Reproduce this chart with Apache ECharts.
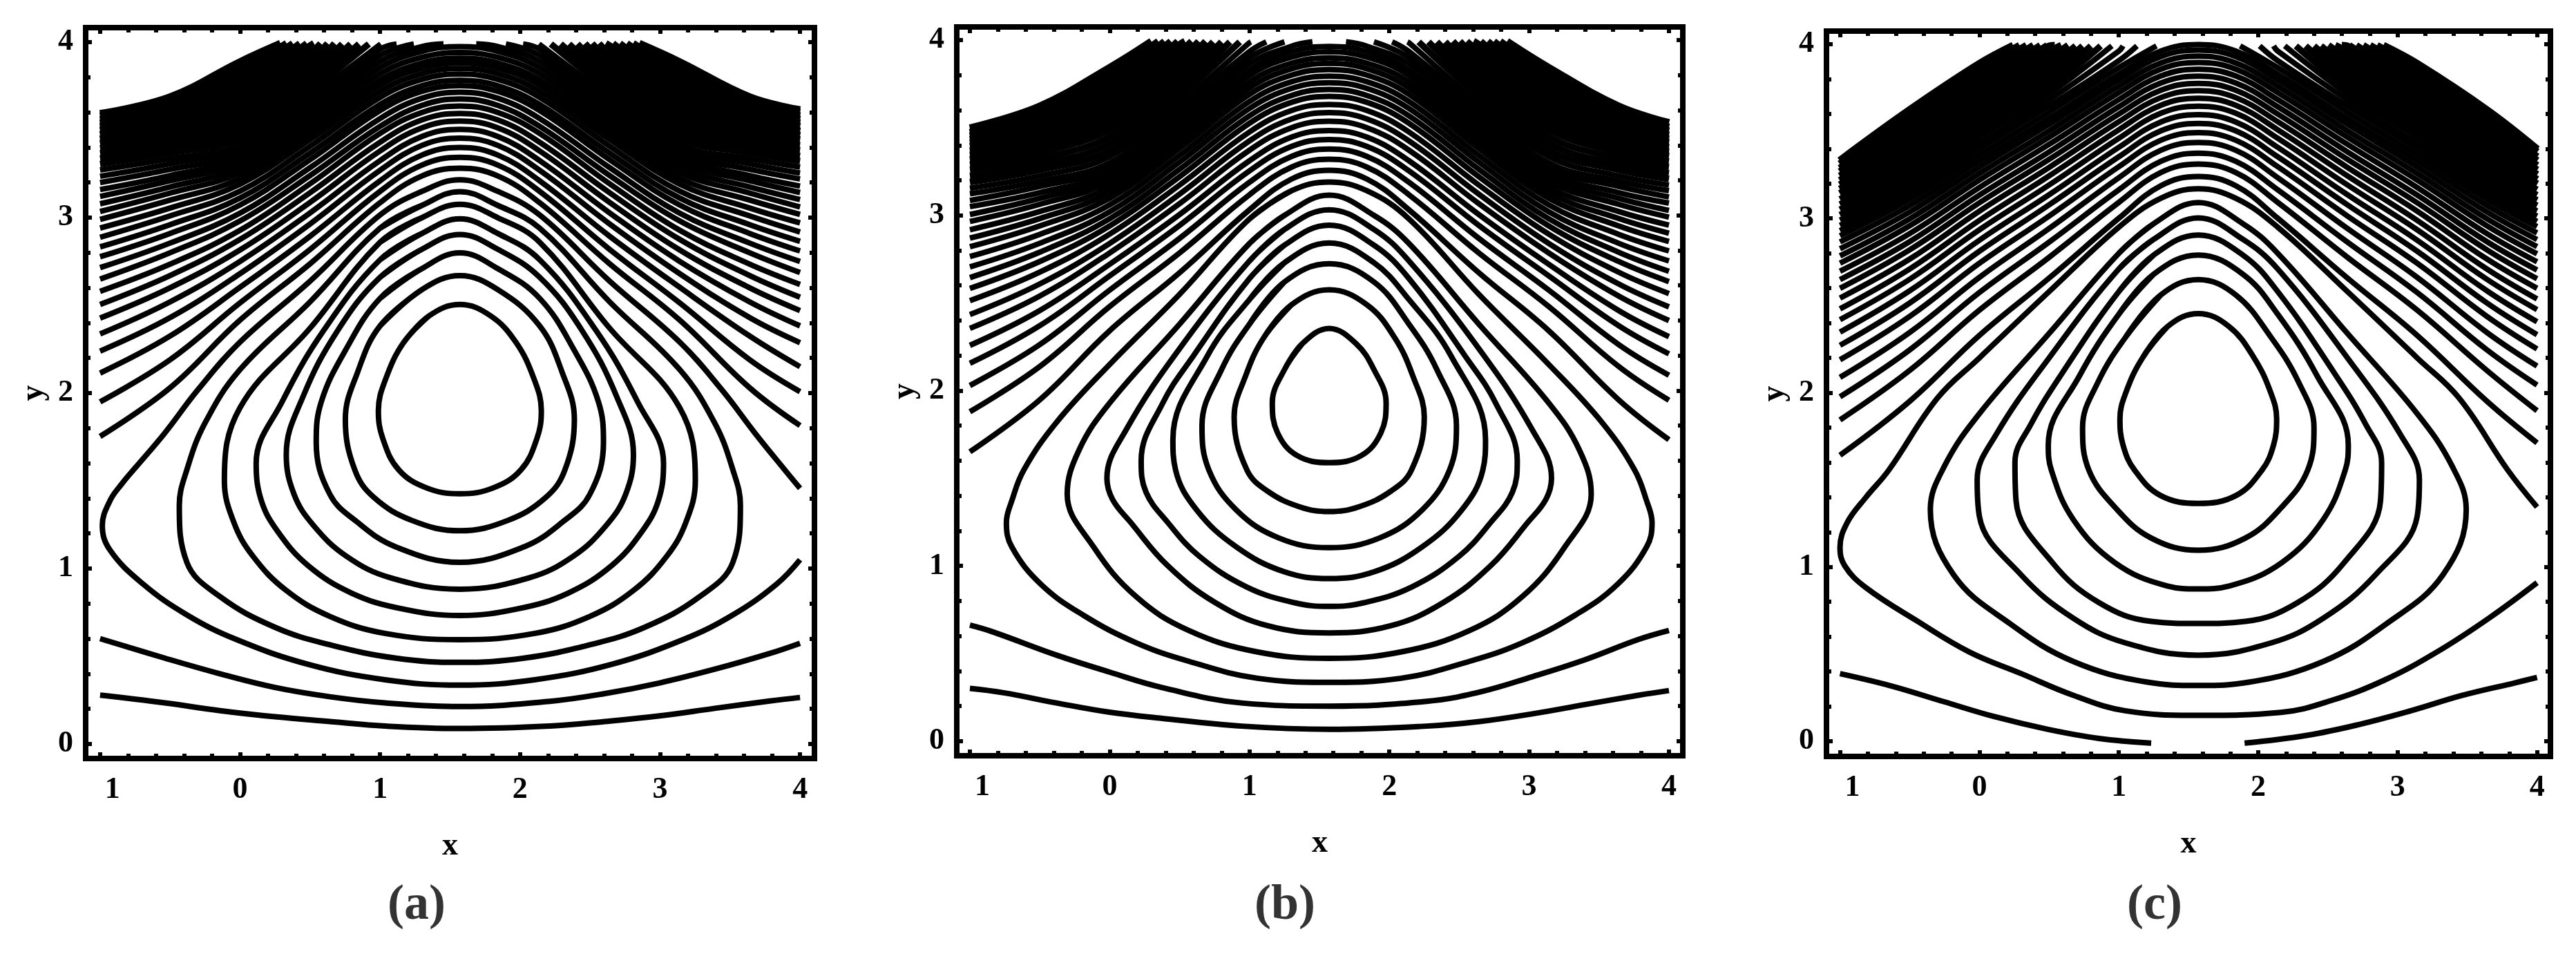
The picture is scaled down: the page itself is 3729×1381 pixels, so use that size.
<!DOCTYPE html>
<html>
<head>
<meta charset="utf-8">
<style>html,body{margin:0;background:#fff}#main{width:3729px;height:1381px}</style>
<script src="https://cdn.jsdelivr.net/npm/echarts@6/dist/echarts.min.js"></script>
</head>
<body>
<div id="main"></div>
<script>
// tick values
const xMajor = [-1, 0, 1, 2, 3, 4];
const yMajor = [0, 1, 2, 3, 4];
const xMinor = [-0.8, -0.6, -0.4, -0.2, 0.2, 0.4, 0.6, 0.8, 1.2, 1.4, 1.6, 1.8, 2.2, 2.4, 2.6, 2.8, 3.2, 3.4, 3.6, 3.8];
const yMinor = [0.2, 0.4, 0.6, 0.8, 1.2, 1.4, 1.6, 1.8, 2.2, 2.4, 2.6, 2.8, 3.2, 3.4, 3.6, 3.8];

// x position of the columns read for the arches and the clipped band
const archX = [-1, -0.5, 0, 0.5, 1, 1.3, 1.57, 1.84, 2.14, 2.64, 3.14, 3.64, 4];
const bandLeftX = [-1, -0.5, 0, 0.5, 1, 1.3];
const bandRightX = [4, 3.64, 3.14, 2.64, 2.14, 1.84];
const bandTopY = 3.99;

// ---- panel (a) ----
const ringsA = [
  [1.57,2.505, 1.35,2.44, 1.17,2.29, 1.04,2.08, 0.988,1.9, 1.02,1.74, 1.133,1.563, 1.33,1.46, 1.57,1.426, 1.81,1.46, 2.007,1.563, 2.12,1.74, 2.152,1.9, 2.1,2.08, 1.97,2.29, 1.79,2.44, 1.57,2.505],
  [1.57,2.669, 1.3,2.59, 1,2.383, 0.84,2.12, 0.752,1.85, 0.819,1.563, 0.956,1.405, 1.231,1.273, 1.57,1.215, 1.909,1.273, 2.184,1.405, 2.321,1.563, 2.388,1.85, 2.3,2.12, 2.14,2.383, 1.84,2.59, 1.57,2.669],
  [1.57,2.799, 1.3,2.71, 1,2.54, 0.75,2.24, 0.58,1.95, 0.544,1.72, 0.642,1.422, 0.838,1.264, 1.113,1.123, 1.57,1.035, 2.027,1.123, 2.302,1.264, 2.498,1.422, 2.596,1.72, 2.56,1.95, 2.39,2.24, 2.14,2.54, 1.84,2.71, 1.57,2.799],
  [1.57,2.904, 1.3,2.82, 1,2.66, 0.7,2.36, 0.45,1.98, 0.33,1.65, 0.386,1.422, 0.524,1.246, 0.76,1.07, 1.074,0.947, 1.57,0.882, 2.066,0.947, 2.38,1.07, 2.616,1.246, 2.754,1.422, 2.81,1.65, 2.69,1.98, 2.44,2.36, 2.14,2.66, 1.84,2.82, 1.57,2.904],
  [1.57,2.993, 1.3,2.91, 1,2.76, 0.6,2.36, 0.3,1.95, 0.115,1.6, 0.152,1.387, 0.269,1.211, 0.485,1.017, 0.799,0.859, 1.152,0.771, 1.57,0.732, 1.988,0.771, 2.341,0.859, 2.655,1.017, 2.871,1.211, 2.988,1.387, 3.025,1.6, 2.84,1.95, 2.54,2.36, 2.14,2.76, 1.84,2.91, 1.57,2.993],
  [1.57,3.076, 1.3,3, 1,2.86, 0.5,2.37, 0,1.917, -0.112,1.5, -0.045,1.264, 0.092,1.07, 0.328,0.876, 0.642,0.727, 1.035,0.63, 1.57,0.594, 2.105,0.63, 2.498,0.727, 2.812,0.876, 3.048,1.07, 3.185,1.264, 3.252,1.5, 3.14,1.917, 2.64,2.37, 2.14,2.86, 1.84,3, 1.57,3.076],
  [1.57,3.148, 1.3,3.07, 1,2.94, 0.5,2.52, 0,2.134, -0.25,1.83, -0.38,1.563, -0.434,1.36, -0.38,1.035, -0.144,0.84, 0.249,0.665, 0.642,0.565, 1.113,0.489, 1.57,0.465, 2.027,0.489, 2.498,0.565, 2.891,0.665, 3.284,0.84, 3.52,1.035, 3.574,1.36, 3.52,1.563, 3.39,1.83, 3.14,2.134, 2.64,2.52, 2.14,2.94, 1.84,3.07, 1.57,3.148]
];
const wrapA = [4,1.05, 3.834,0.912, 3.519,0.735, 3.166,0.595, 2.655,0.454, 2.105,0.366, 1.57,0.335, 1.035,0.366, 0.485,0.454, -0.026,0.595, -0.379,0.735, -0.694,0.912, -0.929,1.105, -0.984,1.246, -0.929,1.387, -0.843,1.484, -0.753,1.57, -0.54,1.77, -0.3,2.02, 0,2.291, 0.5,2.638, 1,3.015, 1.3,3.15, 1.57,3.216, 1.84,3.15, 2.14,3.015, 2.64,2.638, 3.14,2.291, 3.44,2.02, 3.68,1.77, 3.883,1.57, 4,1.457];
const lowA = [
  [-1,0.6, -0.537,0.489, -0.144,0.4, 0.249,0.322, 0.642,0.269, 1.035,0.234, 1.57,0.213, 2.213,0.243, 2.606,0.287, 2.998,0.348, 3.391,0.426, 3.784,0.516, 4,0.574],
  [-1,0.278, -0.537,0.234, -0.144,0.19, 0.249,0.155, 0.642,0.128, 1.035,0.102, 1.57,0.088, 2.213,0.102, 2.606,0.128, 2.998,0.16, 3.391,0.203, 3.784,0.245, 4,0.265]
];
const archesA = [
  [1.753,2.03,2.416,2.737,3.085,3.238,3.282,3.238,3.085,2.737,2.416,2.03,1.815],
  [1.95,2.19,2.514,2.819,3.15,3.3,3.344,3.3,3.15,2.819,2.514,2.19,2.008],
  [2.114,2.325,2.603,2.894,3.21,3.357,3.4,3.357,3.21,2.894,2.603,2.325,2.15],
  [2.239,2.43,2.681,2.964,3.27,3.412,3.453,3.412,3.27,2.964,2.681,2.43,2.287],
  [2.337,2.52,2.751,3.027,3.325,3.463,3.503,3.463,3.325,3.027,2.751,2.52,2.383],
  [2.427,2.6,2.816,3.087,3.38,3.512,3.55,3.512,3.38,3.087,2.816,2.6,2.47],
  [2.505,2.67,2.876,3.142,3.43,3.557,3.594,3.557,3.43,3.142,2.876,2.67,2.546],
  [2.58,2.735,2.928,3.193,3.48,3.6,3.636,3.6,3.48,3.193,2.928,2.735,2.619],
  [2.65,2.8,2.981,3.24,3.52,3.64,3.676,3.64,3.52,3.24,2.981,2.8,2.687],
  [2.715,2.855,3.026,3.285,3.565,3.681,3.715,3.681,3.565,3.285,3.026,2.855,2.75],
  [2.777,2.91,3.072,3.33,3.61,3.72,3.752,3.72,3.61,3.33,3.072,2.91,2.81],
  [2.833,2.96,3.112,3.368,3.645,3.752,3.783,3.752,3.645,3.368,3.112,2.96,2.865],
  [2.888,3.01,3.151,3.407,3.685,3.788,3.818,3.788,3.685,3.407,3.151,3.01,2.918],
  [2.941,3.055,3.191,3.445,3.72,3.821,3.85,3.821,3.72,3.445,3.191,3.055,2.97],
  [2.99,3.1,3.223,3.478,3.755,3.852,3.88,3.852,3.755,3.478,3.223,3.1,3.018],
  [3.035,3.14,3.256,3.51,3.785,3.881,3.909,3.881,3.785,3.51,3.256,3.14,3.061],
  [3.079,3.175,3.285,3.542,3.82,3.914,3.941,3.914,3.82,3.542,3.285,3.175,3.103],
  [3.121,3.21,3.315,3.574,3.855,3.948,3.975,3.948,3.855,3.574,3.315,3.21,3.143]
];
const bandLeftA = [
  [3.16,3.24,3.341,3.603,3.89,3.975],[3.2,3.275,3.367,3.635,3.925],[3.236,3.307,3.394,3.665,3.96],[3.272,3.337,3.416,3.69],
  [3.306,3.37,3.45,3.725],[3.337,3.4,3.485,3.755],[3.367,3.43,3.52,3.79],[3.395,3.46,3.555,3.82],[3.42,3.49,3.59,3.85],
  [3.445,3.525,3.625,3.89],[3.47,3.555,3.66,3.93],[3.495,3.58,3.695,3.975],[3.515,3.6,3.73],[3.535,3.625,3.765],
  [3.555,3.645,3.8],[3.575,3.665,3.84],[3.59,3.685,3.885]
];
const bandRightA = [
  [3.18,3.24,3.341,3.603,3.89,3.975],[3.22,3.275,3.367,3.635,3.925],[3.254,3.307,3.394,3.665,3.96],[3.288,3.337,3.416,3.69],
  [3.322,3.37,3.45,3.725],[3.352,3.4,3.485,3.755],[3.384,3.43,3.52,3.79],[3.413,3.46,3.555,3.82],[3.44,3.49,3.59,3.85],
  [3.465,3.525,3.625,3.89],[3.49,3.555,3.66,3.93],[3.516,3.58,3.695,3.975],[3.536,3.6,3.73],[3.557,3.625,3.765],
  [3.577,3.645,3.8],[3.597,3.665,3.84],[3.612,3.685,3.885]
];
const bandEndLeftA = [1.453,1.241,1.118,1.005,0.92,0.85,0.79,0.73,0.68,0.63,0.58,0.53,0.48,0.43,0.38,0.335,0.29];
const bandEndRightA = [1.687,1.899,2.022,2.135,2.22,2.29,2.35,2.41,2.46,2.51,2.56,2.61,2.66,2.71,2.76,2.805,2.85];

// ---- panel (b) ----
const ringsB = [
  [1.57,2.355, 1.38,2.27, 1.25,2.12, 1.163,1.93, 1.2,1.76, 1.34,1.63, 1.57,1.589, 1.8,1.63, 1.94,1.76, 1.977,1.93, 1.89,2.12, 1.76,2.27, 1.57,2.355],
  [1.57,2.575, 1.3,2.49, 1.1,2.3, 0.97,2.08, 0.89,1.85, 0.981,1.548, 1.132,1.425, 1.359,1.337, 1.57,1.31, 1.781,1.337, 2.008,1.425, 2.159,1.548, 2.25,1.85, 2.17,2.08, 2.04,2.3, 1.84,2.49, 1.57,2.575],
  [1.57,2.724, 1.25,2.62, 1,2.38, 0.8,2.12, 0.66,1.8, 0.709,1.548, 0.906,1.319, 1.208,1.16, 1.57,1.104, 1.932,1.16, 2.234,1.319, 2.431,1.548, 2.48,1.8, 2.34,2.12, 2.14,2.38, 1.89,2.62, 1.57,2.724],
  [1.57,2.842, 1.25,2.73, 1,2.52, 0.7,2.2, 0.452,1.72, 0.471,1.548, 0.622,1.319, 0.906,1.108, 1.246,0.967, 1.57,0.928, 1.894,0.967, 2.234,1.108, 2.518,1.319, 2.669,1.548, 2.688,1.72, 2.44,2.2, 2.14,2.52, 1.89,2.73, 1.57,2.842],
  [1.57,2.944, 1.25,2.83, 1,2.64, 0.6,2.2, 0.38,1.93, 0.225,1.6, 0.26,1.42, 0.414,1.249, 0.641,1.055, 0.981,0.879, 1.322,0.79, 1.57,0.769, 1.818,0.79, 2.159,0.879, 2.499,1.055, 2.726,1.249, 2.88,1.42, 2.915,1.6, 2.76,1.93, 2.54,2.2, 2.14,2.64, 1.89,2.83, 1.57,2.944],
  [1.57,3.032, 1.25,2.92, 1,2.74, 0.5,2.24, 0.12,1.78, -0.02,1.5, 0.02,1.38, 0.149,1.249, 0.414,1.002, 0.754,0.791, 1.132,0.658, 1.57,0.618, 2.008,0.658, 2.386,0.791, 2.726,1.002, 2.991,1.249, 3.12,1.38, 3.16,1.5, 3.02,1.78, 2.64,2.24, 2.14,2.74, 1.89,2.92, 1.57,3.032],
  [1.57,3.115, 1.25,3, 1,2.84, 0.5,2.38, 0,1.93, -0.22,1.66, -0.304,1.41, -0.115,1.108, 0.187,0.826, 0.565,0.632, 1.057,0.509, 1.57,0.473, 2.083,0.509, 2.575,0.632, 2.953,0.826, 3.255,1.108, 3.444,1.41, 3.36,1.66, 3.14,1.93, 2.64,2.38, 2.14,2.84, 1.89,3, 1.57,3.115],
  [1.57,3.19, 1.3,3.14, 1,2.98, 0.5,2.55, 0,2.15, -0.38,1.82, -0.614,1.548, -0.7,1.372, -0.739,1.248, -0.7,1.108, -0.493,0.896, -0.191,0.72, 0.187,0.562, 0.565,0.456, 1.057,0.359, 1.57,0.336, 2.083,0.359, 2.575,0.456, 2.953,0.562, 3.331,0.72, 3.633,0.896, 3.84,1.108, 3.879,1.248, 3.84,1.372, 3.754,1.548, 3.52,1.82, 3.14,2.15, 2.64,2.55, 2.14,2.98, 1.84,3.14, 1.57,3.19]
];
const lowB = [
  [-1,0.662, -0.834,0.623, -0.38,0.491, 0,0.394, 0.376,0.306, 0.943,0.218, 1.575,0.2, 2.267,0.227, 2.645,0.28, 3.023,0.368, 3.4,0.465, 3.78,0.58, 4,0.632],
  [-1,0.301, -0.758,0.276, -0.38,0.218, 0,0.165, 0.376,0.13, 0.943,0.086, 1.575,0.068, 2.267,0.086, 2.645,0.112, 3.023,0.156, 3.4,0.209, 3.78,0.262, 4,0.289]
];
const archesB = [
  [1.651,1.948,2.342,2.673,3.032,3.207,3.257,3.207,3.032,2.673,2.342,1.948,1.72],
  [1.88,2.138,2.48,2.786,3.118,3.275,3.32,3.275,3.118,2.786,2.48,2.138,1.945],
  [2.029,2.263,2.574,2.869,3.189,3.336,3.378,3.336,3.189,2.869,2.574,2.263,2.088],
  [2.156,2.371,2.655,2.943,3.254,3.393,3.433,3.393,3.254,2.943,2.655,2.371,2.21],
  [2.258,2.457,2.721,3.005,3.312,3.446,3.484,3.446,3.312,3.005,2.721,2.457,2.308],
  [2.355,2.54,2.786,3.067,3.372,3.5,3.537,3.5,3.372,3.067,2.786,2.54,2.4],
  [2.434,2.609,2.84,3.121,3.425,3.55,3.586,3.55,3.425,3.121,2.84,2.609,2.478],
  [2.513,2.676,2.893,3.173,3.476,3.598,3.633,3.598,3.476,3.173,2.893,2.676,2.554],
  [2.583,2.737,2.94,3.221,3.526,3.645,3.679,3.645,3.526,3.221,2.94,2.737,2.622],
  [2.645,2.79,2.981,3.263,3.568,3.684,3.718,3.684,3.568,3.263,2.981,2.79,2.681],
  [2.706,2.841,3.021,3.304,3.61,3.724,3.757,3.724,3.61,3.304,3.021,2.841,2.74],
  [2.765,2.892,3.06,3.343,3.65,3.762,3.794,3.762,3.65,3.343,3.06,2.892,2.797],
  [2.821,2.94,3.098,3.382,3.69,3.8,3.832,3.8,3.69,3.382,3.098,2.94,2.851],
  [2.87,2.982,3.13,3.417,3.727,3.836,3.867,3.836,3.727,3.417,3.13,2.982,2.898],
  [2.918,3.022,3.161,3.449,3.762,3.868,3.899,3.868,3.762,3.449,3.161,3.022,2.944],
  [2.965,3.063,3.192,3.483,3.798,3.903,3.933,3.903,3.798,3.483,3.192,3.063,2.99],
  [3.005,3.097,3.218,3.512,3.829,3.934,3.964,3.934,3.829,3.512,3.218,3.097,3.028]
];
const bandLeftB = [
  [3.05,3.13,3.245,3.545,3.865,3.965],[3.085,3.165,3.272,3.575,3.9],[3.123,3.195,3.3,3.605,3.935],[3.155,3.225,3.335,3.64,3.985],
  [3.19,3.26,3.37,3.68],[3.225,3.29,3.41,3.72],[3.261,3.325,3.45,3.76],[3.29,3.36,3.49,3.8],[3.315,3.39,3.53,3.84],
  [3.34,3.415,3.565,3.88],[3.365,3.445,3.6,3.925],[3.39,3.475,3.64,3.97],[3.41,3.5,3.68],[3.43,3.53,3.72],
  [3.45,3.56,3.76],[3.47,3.59,3.8],[3.495,3.62,3.84]
];
const bandRightB = [
  [3.07,3.13,3.245,3.545,3.865,3.965],[3.105,3.165,3.272,3.575,3.9],[3.141,3.195,3.3,3.605,3.935],[3.173,3.225,3.335,3.64,3.985],
  [3.208,3.26,3.37,3.68],[3.241,3.29,3.41,3.72],[3.277,3.325,3.45,3.76],[3.308,3.36,3.49,3.8],[3.334,3.39,3.53,3.84],
  [3.359,3.415,3.565,3.88],[3.385,3.445,3.6,3.925],[3.411,3.475,3.64,3.97],[3.432,3.5,3.68],[3.455,3.53,3.72],
  [3.478,3.56,3.76],[3.5,3.59,3.8],[3.526,3.62,3.84]
];
const bandEndLeftB = [1.45,1.25,1.12,1.01,0.93,0.86,0.8,0.74,0.69,0.64,0.59,0.54,0.49,0.44,0.395,0.35,0.3];
const bandEndRightB = [1.69,1.89,2.02,2.13,2.21,2.28,2.34,2.4,2.45,2.5,2.55,2.6,2.65,2.7,2.745,2.79,2.84];

// ---- panel (c) ----
const ringsC = [
  [1.57,2.454, 1.35,2.38, 1.17,2.2, 1.05,2, 1.008,1.85, 1.03,1.7, 1.113,1.556, 1.3,1.41, 1.57,1.365, 1.84,1.41, 2.027,1.556, 2.11,1.7, 2.132,1.85, 2.09,2, 1.97,2.2, 1.79,2.38, 1.57,2.454],
  [1.57,2.649, 1.3,2.56, 1.05,2.32, 0.85,2.06, 0.74,1.8, 0.785,1.556, 0.971,1.344, 1.232,1.166, 1.57,1.096, 1.908,1.166, 2.169,1.344, 2.355,1.556, 2.4,1.8, 2.29,2.06, 2.09,2.32, 1.84,2.56, 1.57,2.649],
  [1.57,2.79, 1.25,2.68, 1,2.45, 0.72,2.1, 0.494,1.7, 0.516,1.556, 0.673,1.273, 0.971,1.025, 1.344,0.892, 1.57,0.874, 1.796,0.892, 2.169,1.025, 2.467,1.273, 2.624,1.556, 2.646,1.7, 2.42,2.1, 2.14,2.45, 1.89,2.68, 1.57,2.79],
  [1.57,2.905, 1.25,2.79, 1,2.58, 0.6,2.12, 0.37,1.82, 0.255,1.6, 0.263,1.379, 0.524,1.025, 0.859,0.795, 1.232,0.688, 1.57,0.676, 1.908,0.688, 2.281,0.795, 2.616,1.025, 2.877,1.379, 2.885,1.6, 2.77,1.82, 2.54,2.12, 2.14,2.58, 1.89,2.79, 1.57,2.905],
  [1.57,3.003, 1.25,2.88, 1,2.71, 0.5,2.2, 0.12,1.76, -0.016,1.5, 0,1.29, 0.3,0.954, 0.673,0.706, 1.045,0.565, 1.57,0.494, 2.095,0.565, 2.467,0.706, 2.84,0.954, 3.14,1.29, 3.156,1.5, 3.02,1.76, 2.64,2.2, 2.14,2.71, 1.89,2.88, 1.57,3.003],
  [1.57,3.091, 1.25,2.97, 1,2.8, 0.5,2.34, 0,1.88, -0.25,1.58, -0.352,1.33, -0.184,0.954, 0.226,0.671, 0.673,0.458, 1.2,0.34, 1.57,0.32, 1.94,0.34, 2.467,0.458, 2.914,0.671, 3.324,0.954, 3.492,1.33, 3.39,1.58, 3.14,1.88, 2.64,2.34, 2.14,2.8, 1.89,2.97, 1.57,3.091]
];
const wrapC = [4,0.91, 3.654,0.706, 3.281,0.512, 2.908,0.352, 2.536,0.237, 2.163,0.166, 1.57,0.149, 1.045,0.175, 0.673,0.264, 0.3,0.388, -0.072,0.512, -0.445,0.689, -0.817,0.883, -0.966,1.007, -1,1.113, -0.948,1.255, -0.817,1.397, -0.65,1.556, -0.3,1.97, 0,2.2, 0.5,2.58, 1,2.95, 1.3,3.115, 1.57,3.17, 1.84,3.115, 2.14,2.95, 2.64,2.58, 3.14,2.2, 3.44,1.97, 3.79,1.556, 4,1.344];
const lowC = [
  [-1,0.388, -0.631,0.317, -0.259,0.228, 0.114,0.14, 0.487,0.069, 0.859,0.016, 1.232,-0.011],
  [1.902,-0.011, 2.349,0.034, 2.722,0.096, 3.095,0.175, 3.467,0.264, 3.84,0.335, 4,0.366]
];
const archesC = [
  [1.641,1.951,2.329,2.658,3.001,3.187,3.241,3.187,3.001,2.658,2.329,1.951,1.712],
  [1.844,2.128,2.474,2.777,3.092,3.263,3.312,3.263,3.092,2.777,2.474,2.128,1.897],
  [1.977,2.246,2.575,2.864,3.164,3.327,3.374,3.327,3.164,2.864,2.575,2.246,2.044],
  [2.088,2.346,2.662,2.942,3.234,3.391,3.436,3.391,3.234,2.942,2.662,2.346,2.153],
  [2.189,2.438,2.743,3.014,3.297,3.448,3.492,3.448,3.297,3.014,2.743,2.438,2.251],
  [2.272,2.515,2.812,3.078,3.354,3.502,3.545,3.502,3.354,3.078,2.812,2.515,2.333],
  [2.348,2.585,2.875,3.136,3.408,3.553,3.595,3.553,3.408,3.136,2.875,2.585,2.407],
  [2.419,2.651,2.935,3.192,3.46,3.603,3.644,3.603,3.46,3.192,2.935,2.651,2.477],
  [2.481,2.71,2.989,3.244,3.509,3.649,3.69,3.649,3.509,3.244,2.989,2.71,2.538],
  [2.543,2.767,3.042,3.293,3.555,3.693,3.733,3.693,3.555,3.293,3.042,2.767,2.599],
  [2.599,2.82,3.09,3.339,3.599,3.735,3.775,3.735,3.599,3.339,3.09,2.82,2.654],
  [2.649,2.867,3.134,3.382,3.641,3.777,3.816,3.777,3.641,3.382,3.134,2.867,2.704],
  [2.697,2.913,3.178,3.425,3.682,3.817,3.856,3.817,3.682,3.425,3.178,2.913,2.751],
  [2.743,2.958,3.22,3.466,3.722,3.856,3.895,3.856,3.722,3.466,3.22,2.958,2.797],
  [2.785,2.998,3.258,3.503,3.759,3.892,3.931,3.892,3.759,3.503,3.258,2.998,2.838],
  [2.826,3.037,3.295,3.54,3.795,3.928,3.966,3.928,3.795,3.54,3.295,3.037,2.879],
  [2.865,3.074,3.33,3.574,3.828,3.96,3.998,3.96,3.828,3.574,3.33,3.074,2.917]
];
const bandLeftC = [
  [2.9,3.11,3.365,3.61,3.865],[2.93,3.14,3.4,3.645,3.905],[2.96,3.17,3.43,3.68,3.96],[2.99,3.2,3.465,3.715],[3.02,3.23,3.495,3.75],
  [3.05,3.265,3.53,3.79],[3.08,3.295,3.56,3.83],[3.11,3.33,3.595,3.87],[3.14,3.36,3.63,3.91],[3.165,3.39,3.66,3.95],[3.19,3.425,3.695,3.985],
  [3.215,3.455,3.73],[3.24,3.485,3.76],[3.265,3.52,3.79],[3.285,3.55,3.825],[3.31,3.585,3.855],[3.33,3.62,3.885]
];
const bandRightC = [
  [2.953,3.11,3.365,3.61,3.865],[2.983,3.14,3.4,3.645,3.905],[3.013,3.17,3.43,3.68,3.96],[3.043,3.2,3.465,3.715],[3.073,3.23,3.495,3.75],
  [3.104,3.265,3.53,3.79],[3.134,3.295,3.56,3.83],[3.165,3.33,3.595,3.87],[3.195,3.36,3.63,3.91],[3.221,3.39,3.66,3.95],[3.249,3.425,3.695,3.985],
  [3.275,3.455,3.73],[3.301,3.485,3.76],[3.329,3.52,3.79],[3.351,3.55,3.825],[3.379,3.585,3.855],[3.395,3.62,3.885]
];
const bandEndLeftC = [1.27,1.13,1.03,0.95,0.87,0.8,0.74,0.69,0.64,0.59,0.54,0.49,0.44,0.39,0.34,0.29,0.244];
const bandEndRightC = [1.87,2.01,2.11,2.19,2.27,2.34,2.4,2.45,2.5,2.55,2.6,2.65,2.7,2.75,2.8,2.85,2.896];

const captions = ["a", "b", "c"];

const serif = "Liberation Serif";
const lineW = 8;
const bandMidW = 9.5;
const bandW = 12;

function pairs(flat) {
  const out = [];
  for (let i = 0; i < flat.length; i += 2) out.push([flat[i], flat[i + 1]]);
  return out;
}
// start on a flank and overlap a little, so the spline stays round over the top of the ring
function ring(flat) {
  const pts = pairs(flat);
  pts.pop();
  return pts.slice(1).concat(pts.slice(0, 3));
}
function arch(row) {
  return row.map((y, j) => [archX[j], y]);
}
function band(rows, nodes, ends) {
  return rows.map((row, i) => row.map((y, j) => [nodes[j], y]).concat([[ends[i], bandTopY]]));
}
function styled(list, width) {
  return list.map(pts => ({ pts, width }));
}
// the first rows of a band still show hairlines, the later ones merge to solid black
function bandLines(rows, nodes, ends) {
  const all = band(rows, nodes, ends);
  return styled(all.slice(0, 4), lineW).concat(styled(all.slice(4, 8), bandMidW), styled(all.slice(8), bandW));
}

const panels = [
  {
    box: [124, 1179, 40, 1098], xr: [-1.103, 4.103], yr: [-0.083, 4.083], capX: 598,
    lines: styled([...ringsA.map(ring), pairs(wrapA), ...lowA.map(pairs), ...archesA.map(arch)], lineW)
      .concat(bandLines(bandLeftA, bandLeftX, bandEndLeftA), bandLines(bandRightA, bandRightX, bandEndRightA))
  },
  {
    box: [1385, 2436, 39, 1094], xr: [-1.094, 4.099], yr: [-0.083, 4.075], capX: 1855,
    lines: styled([...ringsB.map(ring), ...lowB.map(pairs), ...archesB.map(arch)], lineW)
      .concat(bandLines(bandLeftB, bandLeftX, bandEndLeftB), bandLines(bandRightB, bandRightX, bandEndRightB))
  },
  {
    box: [2644, 3692, 45, 1095], xr: [-1.097, 4.096], yr: [-0.087, 4.075], capX: 3114,
    lines: styled([...ringsC.map(ring), pairs(wrapC), ...lowC.map(pairs), ...archesC.map(arch)], lineW)
      .concat(bandLines(bandLeftC, bandLeftX, bandEndLeftC), bandLines(bandRightC, bandRightX, bandEndRightC))
  }
];

const grids = [], xAxes = [], yAxes = [], series = [], titles = [];
const frame = { show: true, onZero: false, lineStyle: { color: "#000", width: 8, cap: "square" } };
const label = { fontFamily: serif, fontWeight: "bold", fontSize: 44, color: "#000" };

panels.forEach((p, i) => {
  grids.push({ left: p.box[0], width: p.box[1] - p.box[0], top: p.box[2], height: p.box[3] - p.box[2] });
  const baseX = xAxes.length, baseY = yAxes.length;
  const tick = (vals, len) => ({ show: true, inside: true, length: len, customValues: vals, lineStyle: { color: "#000", width: 6 } });
  const xBase = { type: "value", gridIndex: i, min: p.xr[0], max: p.xr[1], splitLine: { show: false }, axisLine: frame, axisLabel: { show: false } };
  const yBase = { type: "value", gridIndex: i, min: p.yr[0], max: p.yr[1], splitLine: { show: false }, axisLine: frame, axisLabel: { show: false } };
  xAxes.push({
    ...xBase, position: "bottom", axisTick: tick(xMajor, 9),
    name: "x", nameLocation: "middle", nameGap: 104, nameTextStyle: { ...label, fontSize: 46 },
    axisLabel: {
      ...label, show: true, margin: 24, customValues: xMajor,
      formatter: v => (v === -1 ? "{m|1}" : String(v)),
      rich: { m: { ...label, padding: [0, 0, 0, 36] } }
    }
  });
  xAxes.push({ ...xBase, position: "top", axisTick: tick(xMajor, 9) });
  xAxes.push({ ...xBase, position: "bottom", axisTick: tick(xMinor, 7) });
  xAxes.push({ ...xBase, position: "top", axisTick: tick(xMinor, 7) });
  yAxes.push({
    ...yBase, position: "left", axisTick: tick(yMajor, 9),
    name: "y", nameLocation: "middle", nameGap: 52, nameRotate: 90, nameTextStyle: { ...label, fontSize: 46 },
    axisLabel: { ...label, show: true, margin: 18, customValues: yMajor }
  });
  yAxes.push({ ...yBase, position: "right", axisTick: tick(yMajor, 9) });
  yAxes.push({ ...yBase, position: "left", axisTick: tick(yMinor, 7) });
  yAxes.push({ ...yBase, position: "right", axisTick: tick(yMinor, 7) });
  p.lines.forEach(l => {
    series.push({
      type: "line", xAxisIndex: baseX, yAxisIndex: baseY, data: l.pts, symbol: "none", smooth: 0.4,
      silent: true, animation: false, clip: false,
      lineStyle: { color: "#000", width: l.width, cap: "butt", join: "round" }
    });
  });
  titles.push({
    text: "{p|(}{b|" + captions[i] + "}{p|)}",
    left: p.capX, top: 1270, textAlign: "center",
    textStyle: {
      rich: {
        p: { fontFamily: serif, fontSize: 72, color: "#333" },
        b: { fontFamily: serif, fontSize: 72, fontWeight: "bold", color: "#333" }
      }
    }
  });
});

const myChart = echarts.init(document.getElementById("main"), null, { renderer: "canvas" });
myChart.setOption({
  backgroundColor: "#fff",
  animation: false,
  title: titles,
  grid: grids,
  xAxis: xAxes,
  yAxis: yAxes,
  series: series
});
</script>
</body>
</html>
